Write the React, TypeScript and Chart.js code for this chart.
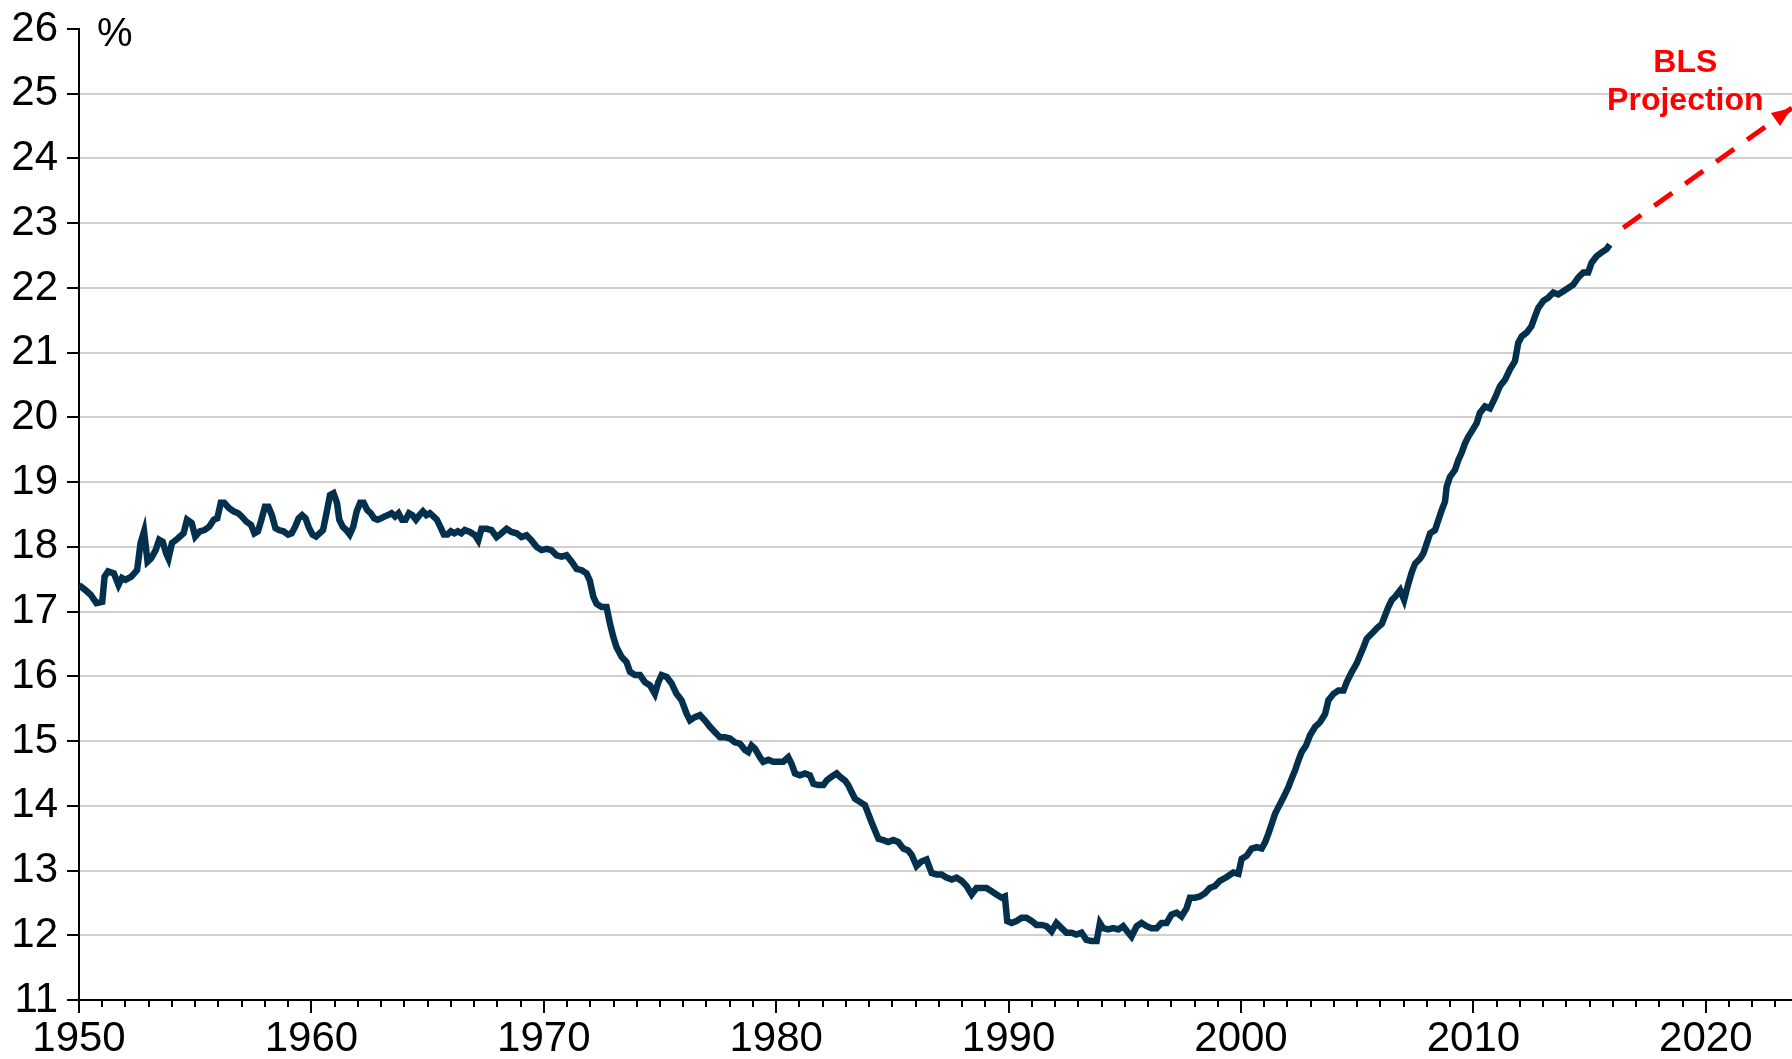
import React, { useEffect, useRef } from "react";
import { Chart, registerables } from "chart.js";

Chart.register(...registerables);

// ---- Data ----
const yTickValues = [11, 12, 13, 14, 15, 16, 17, 18, 19, 20, 21, 22, 23, 24, 25, 26];
const xDecadeLabels = [1950, 1960, 1970, 1980, 1990, 2000, 2010, 2020];
const xTickYears = Array.from({ length: 74 }, (_, i) => 1950 + i);

const seg1950to1966: [number, number][] = [
  [1950.0, 17.41], [1950.25, 17.34], [1950.5, 17.26], [1950.75, 17.13], [1951.0, 17.15], [1951.1, 17.54],
  [1951.25, 17.62], [1951.5, 17.59], [1951.7, 17.41], [1951.85, 17.52], [1952.0, 17.49], [1952.25, 17.54],
  [1952.5, 17.64], [1952.65, 18.06], [1952.8, 18.24], [1952.95, 17.77], [1953.1, 17.82], [1953.3, 17.95],
  [1953.45, 18.11], [1953.6, 18.08], [1953.75, 17.9], [1953.85, 17.82], [1954.0, 18.06], [1954.25, 18.13],
  [1954.5, 18.21], [1954.65, 18.42], [1954.85, 18.37], [1955.0, 18.16], [1955.2, 18.24], [1955.4, 18.26],
  [1955.6, 18.31], [1955.8, 18.42], [1955.95, 18.44], [1956.1, 18.68], [1956.25, 18.68], [1956.45, 18.6],
  [1956.65, 18.55], [1956.85, 18.52], [1957.0, 18.47], [1957.2, 18.39], [1957.4, 18.34], [1957.55, 18.21],
  [1957.7, 18.24], [1957.85, 18.42], [1958.0, 18.62], [1958.15, 18.62], [1958.3, 18.49], [1958.45, 18.29],
  [1958.6, 18.26], [1958.8, 18.24], [1959.0, 18.19], [1959.15, 18.21], [1959.3, 18.31], [1959.45, 18.44],
  [1959.6, 18.49], [1959.75, 18.44], [1959.9, 18.29], [1960.05, 18.19], [1960.2, 18.16], [1960.35, 18.21],
  [1960.5, 18.26], [1960.65, 18.52], [1960.8, 18.8], [1960.95, 18.83], [1961.1, 18.68], [1961.2, 18.42],
  [1961.35, 18.31], [1961.5, 18.26], [1961.65, 18.19], [1961.8, 18.31], [1961.95, 18.55], [1962.1, 18.68],
  [1962.25, 18.68], [1962.4, 18.57], [1962.55, 18.52], [1962.7, 18.44], [1962.85, 18.42], [1963.0, 18.44],
  [1963.15, 18.47], [1963.3, 18.49], [1963.45, 18.52], [1963.6, 18.47], [1963.75, 18.52], [1963.9, 18.42],
  [1964.05, 18.42], [1964.2, 18.52], [1964.35, 18.49], [1964.5, 18.42], [1964.65, 18.49], [1964.8, 18.55],
  [1964.95, 18.49], [1965.1, 18.52], [1965.25, 18.47], [1965.4, 18.42], [1965.55, 18.31], [1965.7, 18.19],
  [1965.85, 18.19], [1966.0, 18.24], [1966.15, 18.21], [1966.3, 18.24], [1966.45, 18.21], [1966.6, 18.26],
  [1966.75, 18.24],
];

const seg1967to1978: [number, number][] = [
  [1966.82, 18.23], [1967.04, 18.18], [1967.18, 18.1], [1967.32, 18.28], [1967.54, 18.28], [1967.75, 18.26],
  [1967.97, 18.15], [1968.18, 18.21], [1968.4, 18.28], [1968.61, 18.23], [1968.83, 18.21], [1969.04, 18.15],
  [1969.26, 18.18], [1969.47, 18.1], [1969.69, 18.0], [1969.9, 17.95], [1970.12, 17.97], [1970.33, 17.95],
  [1970.55, 17.87], [1970.77, 17.85], [1970.98, 17.87], [1971.2, 17.77], [1971.41, 17.66], [1971.63, 17.64],
  [1971.84, 17.59], [1971.98, 17.48], [1972.13, 17.23], [1972.27, 17.12], [1972.49, 17.07], [1972.7, 17.07],
  [1972.85, 16.81], [1972.99, 16.61], [1973.13, 16.45], [1973.35, 16.3], [1973.56, 16.22], [1973.71, 16.07],
  [1973.92, 16.02], [1974.14, 16.02], [1974.35, 15.91], [1974.57, 15.86], [1974.78, 15.73], [1974.93, 15.91],
  [1975.07, 16.02], [1975.29, 15.99], [1975.5, 15.89], [1975.71, 15.73], [1975.93, 15.63], [1976.15, 15.42],
  [1976.29, 15.32], [1976.5, 15.37], [1976.72, 15.4], [1976.93, 15.32], [1977.15, 15.22], [1977.36, 15.14],
  [1977.58, 15.06], [1977.79, 15.06], [1978.01, 15.04], [1978.22, 14.98],
];

const seg1978to1985: [number, number][] = [
  [1978.44, 14.96], [1978.66, 14.86], [1978.8, 14.83], [1978.94, 14.93], [1979.09, 14.88], [1979.3, 14.75],
  [1979.44, 14.68], [1979.66, 14.71], [1979.87, 14.68], [1980.09, 14.68], [1980.3, 14.68], [1980.52, 14.75],
  [1980.66, 14.65], [1980.81, 14.5], [1981.02, 14.47], [1981.24, 14.5], [1981.45, 14.47], [1981.6, 14.34],
  [1981.81, 14.32], [1982.03, 14.32], [1982.17, 14.39], [1982.38, 14.45], [1982.6, 14.5], [1982.74, 14.45],
  [1982.96, 14.39], [1983.1, 14.32], [1983.25, 14.21], [1983.39, 14.11], [1983.6, 14.06], [1983.82, 14.01],
  [1983.96, 13.88], [1984.1, 13.75], [1984.25, 13.62], [1984.4, 13.49], [1984.61, 13.47], [1984.82, 13.44],
  [1985.04, 13.47], [1985.25, 13.44], [1985.47, 13.34], [1985.68, 13.31], [1985.83, 13.24],
];

const seg1986to1999: [number, number][] = [
  [1986.04, 13.07], [1986.25, 13.14], [1986.47, 13.17], [1986.69, 12.96], [1986.9, 12.94], [1987.12, 12.94],
  [1987.33, 12.89], [1987.55, 12.86], [1987.76, 12.89], [1987.98, 12.84], [1988.19, 12.76], [1988.41, 12.63],
  [1988.62, 12.73], [1988.84, 12.73], [1989.05, 12.73], [1989.27, 12.68], [1989.48, 12.63], [1989.7, 12.58],
  [1989.84, 12.6], [1989.94, 12.22], [1990.13, 12.19], [1990.34, 12.22], [1990.56, 12.27], [1990.77, 12.27],
  [1990.99, 12.22], [1991.2, 12.16], [1991.42, 12.16], [1991.63, 12.14], [1991.85, 12.06], [1992.06, 12.19],
  [1992.28, 12.11], [1992.49, 12.04], [1992.71, 12.04], [1992.92, 12.01], [1993.14, 12.04], [1993.35, 11.93],
  [1993.57, 11.91], [1993.79, 11.91], [1993.93, 12.19], [1994.07, 12.11], [1994.29, 12.09], [1994.5, 12.11],
  [1994.72, 12.09], [1994.93, 12.14], [1995.15, 12.04], [1995.29, 11.98], [1995.51, 12.14], [1995.72, 12.19],
  [1995.94, 12.14], [1996.15, 12.11], [1996.37, 12.11], [1996.58, 12.19], [1996.8, 12.19], [1997.01, 12.32],
  [1997.23, 12.35], [1997.44, 12.29], [1997.66, 12.42], [1997.8, 12.58], [1998.02, 12.58], [1998.23, 12.6],
  [1998.45, 12.65], [1998.66, 12.73], [1998.88, 12.76], [1999.09, 12.84],
];

const seg1999to2008: [number, number][] = [
  [1999.39, 12.9], [1999.67, 12.97], [1999.89, 12.95], [2000.03, 13.18], [2000.25, 13.23], [2000.46, 13.34],
  [2000.68, 13.36], [2000.89, 13.34], [2001.04, 13.44], [2001.18, 13.57], [2001.32, 13.72], [2001.47, 13.88],
  [2001.61, 13.98], [2001.83, 14.13], [2002.04, 14.29], [2002.18, 14.42], [2002.33, 14.55], [2002.47, 14.7],
  [2002.61, 14.83], [2002.8, 14.93], [2002.97, 15.09], [2003.19, 15.22], [2003.4, 15.29], [2003.62, 15.42],
  [2003.76, 15.63], [2003.98, 15.73], [2004.19, 15.78], [2004.41, 15.78], [2004.55, 15.91], [2004.77, 16.07],
  [2004.98, 16.2], [2005.12, 16.32], [2005.27, 16.45], [2005.41, 16.58], [2005.63, 16.66], [2005.84, 16.74],
  [2006.06, 16.81], [2006.2, 16.94], [2006.34, 17.07], [2006.49, 17.18], [2006.63, 17.23], [2006.85, 17.33],
  [2007.02, 17.18], [2007.2, 17.43], [2007.35, 17.61], [2007.49, 17.74], [2007.71, 17.82], [2007.85, 17.9],
  [2007.99, 18.05], [2008.14, 18.21], [2008.35, 18.26], [2008.49, 18.41], [2008.64, 18.57], [2008.78, 18.7],
];

const seg2009to2015: [number, number][] = [
  [2008.85, 18.93], [2008.99, 19.08], [2009.21, 19.19], [2009.35, 19.34], [2009.49, 19.45], [2009.64, 19.6],
  [2009.78, 19.7], [2009.92, 19.78], [2010.14, 19.91], [2010.28, 20.07], [2010.5, 20.17], [2010.71, 20.14],
  [2010.93, 20.3], [2011.14, 20.48], [2011.36, 20.58], [2011.57, 20.74], [2011.79, 20.87], [2011.93, 21.15],
  [2012.08, 21.25], [2012.29, 21.31], [2012.5, 21.41], [2012.65, 21.56], [2012.79, 21.69], [2013.01, 21.8],
  [2013.22, 21.85], [2013.44, 21.93], [2013.65, 21.9], [2013.87, 21.95], [2014.08, 22.0], [2014.3, 22.05],
  [2014.51, 22.16], [2014.73, 22.24], [2014.94, 22.24], [2015.09, 22.39], [2015.3, 22.49], [2015.52, 22.55],
  [2015.73, 22.6], [2015.87, 22.67],
];

const projectionYears = [2016.45, 2023.7];
const projectionValues = [22.93, 24.78];

const unitLabel = "%";
const projectionLabel = ["BLS", "Projection"];

// ---- Styles ----
const FONT = '"Liberation Sans", Arial, sans-serif';
const LINE_COLOR = "#03304d";
const RED = "#ff0000";

const observed = [
  ...seg1950to1966,
  ...seg1967to1978,
  ...seg1978to1985,
  ...seg1986to1999,
  ...seg1999to2008,
  ...seg2009to2015,
].map(([x, y]) => ({ x, y }));

const projection = projectionYears.map((x, i) => ({ x, y: projectionValues[i] }));

const annotationPlugin = {
  id: "annotations",
  afterDraw(chart: any) {
    const ctx = chart.ctx;
    const area = chart.chartArea;
    const xs = chart.scales.x;
    // x-axis tick marks: long on decades, short on years
    ctx.save();
    ctx.strokeStyle = "#000";
    ctx.lineWidth = 2;
    xTickYears.forEach((yr) => {
      const px = Math.round(xs.getPixelForValue(yr));
      const len = yr % 10 === 0 ? 13 : 7;
      ctx.beginPath();
      ctx.moveTo(px, area.bottom);
      ctx.lineTo(px, area.bottom + len);
      ctx.stroke();
    });
    ctx.restore();

    // arrowhead on projection
    const meta = chart.getDatasetMeta(1);
    if (meta && meta.data.length >= 2) {
      const p1 = meta.data[meta.data.length - 2];
      const p2 = meta.data[meta.data.length - 1];
      const ang = Math.atan2(p2.y - p1.y, p2.x - p1.x);
      const L = 20;
      const W = 8;
      ctx.save();
      ctx.fillStyle = RED;
      ctx.translate(p2.x, p2.y);
      ctx.rotate(ang);
      ctx.beginPath();
      ctx.moveTo(0, 0);
      ctx.lineTo(-L, -W);
      ctx.lineTo(-L, W);
      ctx.closePath();
      ctx.fill();
      ctx.restore();
    }

    // unit label
    ctx.save();
    ctx.fillStyle = "#000";
    ctx.font = `40px ${FONT}`;
    ctx.textAlign = "left";
    ctx.textBaseline = "alphabetic";
    ctx.fillText(unitLabel, area.left + 18, area.top + 17);
    ctx.restore();

    // BLS Projection label
    ctx.save();
    ctx.fillStyle = RED;
    ctx.font = `bold 32px ${FONT}`;
    ctx.textAlign = "center";
    ctx.textBaseline = "alphabetic";
    const cx = xs.getPixelForValue(2019.12);
    ctx.fillText(projectionLabel[0], cx, 72);
    ctx.fillText(projectionLabel[1], cx, 110);
    ctx.restore();
  },
};

export default function App() {
  const canvasRef = useRef<HTMLCanvasElement | null>(null);

  useEffect(() => {
    const canvas = canvasRef.current;
    if (!canvas) return;
    const chart = new Chart(canvas, {
      type: "line",
      data: {
        datasets: [
          {
            data: observed,
            borderColor: LINE_COLOR,
            borderWidth: 6.5,
            pointRadius: 0,
            tension: 0,
            borderJoinStyle: "miter",
            fill: false,
          },
          {
            data: projection,
            borderColor: RED,
            borderWidth: 5,
            borderDash: [22, 16],
            pointRadius: 0,
            tension: 0,
            fill: false,
          },
        ],
      },
      options: {
        animation: false,
        responsive: false,
        layout: { padding: { top: 29, right: 0, bottom: 0, left: 0 } },
        plugins: {
          legend: { display: false },
          tooltip: { enabled: false },
        },
        scales: {
          x: {
            type: "linear",
            min: 1950,
            max: 2023.71,
            afterBuildTicks: (scale: any) => {
              scale.ticks = xTickYears.map((v) => ({ value: v }));
            },
            afterFit: (scale: any) => {
              scale.height = 59;
              scale.paddingLeft = 0;
              scale.paddingRight = 0;
            },
            ticks: {
              autoSkip: false,
              maxRotation: 0,
              minRotation: 0,
              padding: 1,
              color: "#000",
              font: { family: FONT, size: 42 },
              callback: (v: any) => (xDecadeLabels.includes(Number(v)) ? String(v) : ""),
            },
            grid: {
              display: true,
              drawOnChartArea: false,
              drawTicks: true,
              tickLength: 13,
              tickColor: "rgba(0,0,0,0)",
            },
            border: { display: true, color: "#000", width: 2 },
          },
          y: {
            type: "linear",
            min: 11,
            max: 26,
            afterBuildTicks: (scale: any) => {
              scale.ticks = yTickValues.map((v) => ({ value: v }));
            },
            afterFit: (scale: any) => {
              scale.width = 79;
              scale.paddingTop = 0;
              scale.paddingBottom = 0;
            },
            ticks: {
              padding: 9,
              color: "#000",
              font: { family: FONT, size: 42 },
              callback: (v: any) => String(v),
            },
            grid: {
              color: (c: any) =>
                c.tick && (c.tick.value === 26 || c.tick.value === 11) ? "rgba(0,0,0,0)" : "#d0d0d0",
              lineWidth: 2,
              tickColor: "#000",
              tickLength: 12,
              tickWidth: 2,
            },
            border: { display: true, color: "#000", width: 2 },
          },
        },
      },
      plugins: [annotationPlugin],
    });
    return () => chart.destroy();
  }, []);

  return (
    <div style={{ position: "fixed", left: 0, top: 0, width: 1792, height: 1059, background: "#fff" }}>
      <canvas ref={canvasRef} width={1792} height={1059} style={{ width: 1792, height: 1059, display: "block" }} />
    </div>
  );
}
